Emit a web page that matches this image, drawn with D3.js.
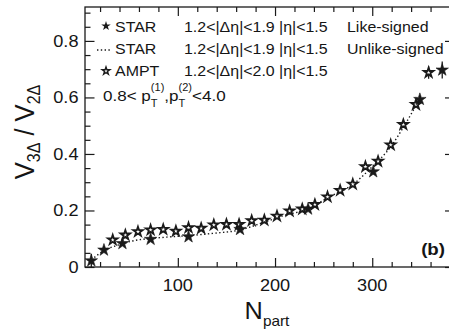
<!DOCTYPE html>
<html>
<head>
<meta charset="utf-8">
<script src="https://cdn.jsdelivr.net/npm/d3@7"></script>
<style>
  body { margin: 0; background: #fff; }
  svg { display: block; }
  text { font-family: "Liberation Sans", Arial, Helvetica, sans-serif; fill: #151515; }
</style>
</head>
<body>
<svg id="chart"></svg>
<script>
// STAR like-signed (filled stars)
const starN   = [11, 24, 43, 72, 111, 164, 234, 301, 349, 372];
const starV   = [0.022, 0.060, 0.083, 0.098, 0.107, 0.133, 0.205, 0.337, 0.593, 0.697];
const starErr = [0.025, 0.008, 0.006, 0.006, 0.006, 0.008, 0.006, 0.010, 0.014, 0.030];

// STAR unlike-signed (dotted curve)
const unlikeN = [11, 25, 39, 53, 72, 94, 111, 136, 164, 190, 211, 234, 254, 280, 298, 320, 333, 348];
const unlikeV = [0.025, 0.060, 0.078, 0.092, 0.101, 0.107, 0.111, 0.119, 0.131, 0.160, 0.184, 0.205, 0.245, 0.292, 0.348, 0.430, 0.500, 0.590];

// AMPT (open stars)
const amptN   = [33, 46, 59, 72, 85, 98, 111, 124, 137, 150, 163, 176, 189, 202, 215, 228, 241, 254, 267, 280, 293, 306, 319, 332, 345, 358];
const amptV   = [0.096, 0.113, 0.125, 0.131, 0.133, 0.127, 0.139, 0.137, 0.149, 0.151, 0.151, 0.164, 0.166, 0.180, 0.198, 0.205, 0.221, 0.248, 0.271, 0.293, 0.355, 0.374, 0.432, 0.504, 0.575, 0.688];
const amptErr = [0.004, 0.004, 0.004, 0.004, 0.004, 0.004, 0.004, 0.004, 0.004, 0.004, 0.004, 0.004, 0.004, 0.004, 0.004, 0.004, 0.004, 0.004, 0.005, 0.005, 0.006, 0.006, 0.008, 0.008, 0.010, 0.022];

// ticks
const xMajor = [100, 200, 300];
const xMinor = [20, 40, 60, 80, 120, 140, 160, 180, 220, 240, 260, 280, 320, 340, 360];
const yMajor = [0, 0.2, 0.4, 0.6, 0.8];
const yMinor = [0.05, 0.1, 0.15, 0.25, 0.3, 0.35, 0.45, 0.5, 0.55, 0.65, 0.7, 0.75, 0.85, 0.9];

const w = 449, h = 331;
const padL = 85, padR = 450, padT = 7, padB = 267;
const sx = 1.1; // glyphs in the original are a bit wide
const ink = "#1a1a1a";

const svg = d3.select("#chart").attr("width", w).attr("height", h);

const x = d3.scaleLinear().domain([4.5, 380]).range([padL, padR]);
const y = d3.scaleLinear().domain([0, 0.92]).range([padB, padT]);

const label = (px, py, str, size, opts = {}) => {
  const t = svg.append("text")
    .attr("transform", `translate(${px},${py}) scale(${sx},1)` + (opts.rotate ? " rotate(-90)" : ""))
    .style("font-size", size + "px")
    .attr("text-anchor", opts.anchor || "start");
  if (opts.bold) t.style("font-weight", "bold");
  t.text(str);
  return t;
};

// axes
const styleAxis = (g) => {
  g.select(".domain").remove();
  g.selectAll("line").attr("stroke", ink).attr("stroke-width", 1.2);
};

svg.append("g").attr("transform", `translate(0,${padB})`)
  .call(d3.axisBottom(x).tickValues(xMinor).tickSize(-5).tickFormat("")).call(styleAxis);
svg.append("g").attr("transform", `translate(0,${padB})`)
  .call(d3.axisBottom(x).tickValues(xMajor).tickSize(-9).tickFormat("")).call(styleAxis);
svg.append("g").attr("transform", `translate(0,${padT})`)
  .call(d3.axisTop(x).tickValues(xMinor).tickSize(-5).tickFormat("")).call(styleAxis);
svg.append("g").attr("transform", `translate(0,${padT})`)
  .call(d3.axisTop(x).tickValues(xMajor).tickSize(-9).tickFormat("")).call(styleAxis);
svg.append("g").attr("transform", `translate(${padL},0)`)
  .call(d3.axisLeft(y).tickValues(yMinor).tickSize(-5.5).tickFormat("")).call(styleAxis);
svg.append("g").attr("transform", `translate(${padL},0)`)
  .call(d3.axisLeft(y).tickValues(yMajor).tickSize(-9.5).tickFormat("")).call(styleAxis);
svg.append("g").attr("transform", `translate(${padR},0)`)
  .call(d3.axisRight(y).tickValues(yMajor).tickSize(-5).tickFormat("")).call(styleAxis);

svg.append("rect")
  .attr("x", padL).attr("y", padT)
  .attr("width", padR - padL).attr("height", padB - padT)
  .attr("fill", "none").attr("stroke", ink).attr("stroke-width", 1.3);

// tick labels
xMajor.forEach(d => label(x(d), 291, d3.format("d")(d), 16.5, { anchor: "middle" }));
yMajor.forEach(d => label(padL - 6.5, y(d) + 6, d === 0 ? "0" : d3.format(".1f")(d), 16.5, { anchor: "end" }));

// axis titles
const xt = label(267, 318.5, "N", 23, { anchor: "middle" });
xt.append("tspan").attr("dy", 7).style("font-size", "14px").text("part");

const yt = label(34, 132, "V", 25.5, { anchor: "middle", rotate: true });
yt.append("tspan").attr("dy", 5).style("font-size", "16px").text("3Δ");
yt.append("tspan").attr("dy", -5).text(" / V");
yt.append("tspan").attr("dy", 5).style("font-size", "16px").text("2Δ");

// STAR unlike-signed curve
const unlike = unlikeN.map((n, i) => [n, unlikeV[i]]);
svg.append("path")
  .datum(unlike)
  .attr("fill", "none")
  .attr("stroke", ink)
  .attr("stroke-width", 1.4)
  .attr("stroke-dasharray", "1.4,2.4")
  .attr("d", d3.line().x(d => x(d[0])).y(d => y(d[1])).curve(d3.curveMonotoneX));

// error bars
const ampt = amptN.map((n, i) => ({ n, v: amptV[i], e: amptErr[i] }));
const star = starN.map((n, i) => ({ n, v: starV[i], e: starErr[i] }));

svg.append("g").selectAll("line")
  .data(ampt.concat(star))
  .enter().append("line")
  .attr("x1", d => x(d.n)).attr("x2", d => x(d.n))
  .attr("y1", d => y(d.v - d.e)).attr("y2", d => y(d.v + d.e))
  .attr("stroke", ink).attr("stroke-width", 1.3);

const openStar = d3.symbol(d3.symbolStar).size(28);
const fullStar = d3.symbol(d3.symbolStar).size(48);

svg.append("g").selectAll("path")
  .data(ampt)
  .enter().append("path")
  .attr("transform", d => `translate(${x(d.n)},${y(d.v)})`)
  .attr("d", openStar)
  .attr("fill", "#fff").attr("stroke", ink).attr("stroke-width", 1.8);

svg.append("g").selectAll("path")
  .data(star)
  .enter().append("path")
  .attr("transform", d => `translate(${x(d.n)},${y(d.v)})`)
  .attr("d", fullStar)
  .attr("fill", ink).attr("stroke", ink).attr("stroke-width", 0.6);

// legend
svg.append("path").attr("transform", "translate(106,26)")
  .attr("d", d3.symbol(d3.symbolStar).size(28)).attr("fill", ink);
svg.append("line").attr("x1", 97).attr("x2", 111).attr("y1", 50).attr("y2", 50)
  .attr("stroke", ink).attr("stroke-width", 1.4).attr("stroke-dasharray", "1.4,2.4");
svg.append("path").attr("transform", "translate(106,71)")
  .attr("d", d3.symbol(d3.symbolStar).size(18)).attr("fill", "#fff")
  .attr("stroke", ink).attr("stroke-width", 1.4);

const rows = [
  ["STAR", "1.2<|Δη|<1.9", "|η|<1.5", "Like-signed", 31.5],
  ["STAR", "1.2<|Δη|<1.9", "|η|<1.5", "Unlike-signed", 53.5],
  ["AMPT", "1.2<|Δη|<2.0", "|η|<1.5", "", 75.5]
];
rows.forEach(r => {
  label(115, r[4], r[0], 14.5);
  label(184, r[4], r[1], 14.5);
  label(279, r[4], r[2], 14.5);
  if (r[3]) label(347, r[4], r[3], 14.5);
});

// pT cut, built as one text with stacked sub/superscripts
const pt = label(103, 100.5, "0.8< p", 15.5);
const scripts = ["(1)", ",p", "(2)", "<4.0"];
scripts.forEach(s => {
  if (s.startsWith("(")) {
    pt.append("tspan").style("font-size", "10px").attr("dy", -9.5).text(s);
    pt.append("tspan").style("font-size", "10px").attr("dx", -12.2).attr("dy", 15.5).text("T");
  } else {
    pt.append("tspan").style("font-size", "15.5px").attr("dx", 6.1).attr("dy", -6).text(s);
  }
});

label(445, 255, "(b)", 17, { anchor: "end", bold: true });
</script>
</body>
</html>
